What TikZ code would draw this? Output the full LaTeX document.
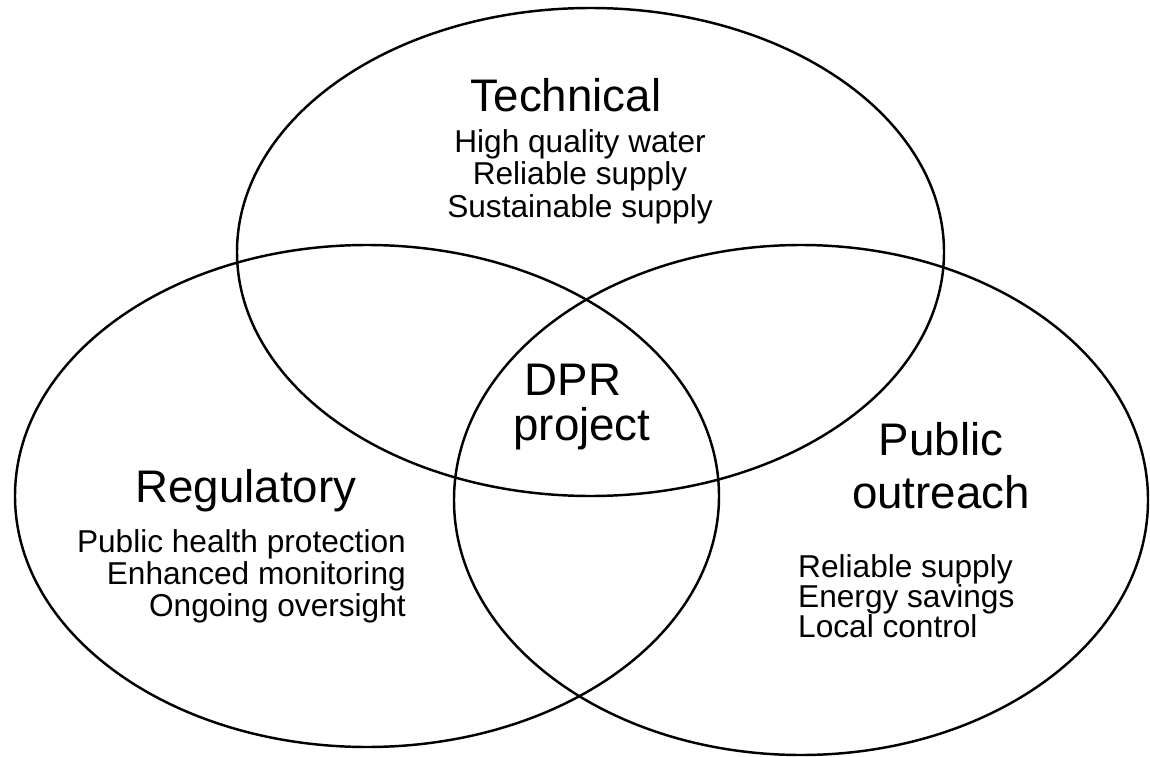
\documentclass[tikz,border=0pt]{standalone}
\usepackage{fontspec}
\setmainfont{Liberation Sans}
\tikzset{
every picture/.style={
line width=1.4pt
}}

\begin{document}
\begin{tikzpicture}[x=0.02cm, y=-0.02cm,
title/.style = {font=\fontsize{26}{30}\selectfont, inner sep=0pt},
item/.style = {font=\fontsize{18}{18}\selectfont, inner sep=0pt}]
\useasboundingbox (0,0) rectangle (1150,757);

\coordinate (tc) at (590.5,252);
\coordinate (lc) at (367,496);
\coordinate (rc) at (801,500);

\draw (tc) ellipse (353.5 and 244);
\draw (lc) ellipse (352 and 251);
\draw (rc) ellipse (347 and 255);

\node[title, anchor=base] at (566,112) (tech) {Technical};
\node[item, anchor=base] at (580,153) (tech1) {High quality water};
\node[item, anchor=base] at (580,185) (tech2) {Reliable supply};
\node[item, anchor=base] at (580,217) (tech3) {Sustainable supply};

\node[title, anchor=base] at (246,502) (reg) {Regulatory};
\node[item, anchor=base east] at (407,552) (reg1) {Public health protection};
\node[item, anchor=base east] at (407,584) (reg2) {Enhanced monitoring};
\node[item, anchor=base east] at (407,616) (reg3) {Ongoing oversight};

\node[title, anchor=base] at (941,455) (pub) {Public};
\node[title, anchor=base] at (941,508) (out) {outreach};
\node[item, anchor=base west] at (797,577) (pub1) {Reliable supply};
\node[item, anchor=base west] at (797,607) (pub2) {Energy savings};
\node[item, anchor=base west] at (797,637) (pub3) {Local control};

\node[title, anchor=base] at (573,395) (dpr) {DPR};
\node[title, anchor=base] at (582,440) (proj) {project};
\end{tikzpicture}
\end{document}
